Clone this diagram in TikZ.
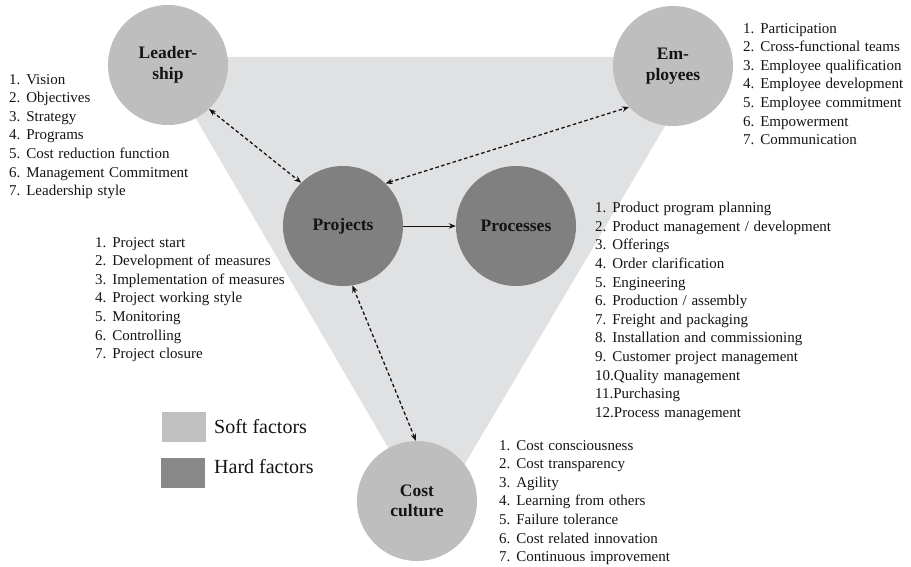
\documentclass[tikz,border=0pt]{standalone}
\usepackage{fontspec}
\setmainfont{Liberation Serif}
\usetikzlibrary{arrows.meta}
\definecolor{softc}{HTML}{BEBEBE}
\definecolor{hardc}{HTML}{808080}
\definecolor{legsoft}{HTML}{C0C0C0}
\definecolor{leghard}{HTML}{888888}
\definecolor{tri}{HTML}{E0E1E3}
\definecolor{txt}{HTML}{141414}
\newcommand\mylistfont{\fontsize{15}{18.6}\selectfont\spaceskip=4.6pt plus 1pt minus 1pt\relax}
\begin{document}
\begin{tikzpicture}[x=1pt,y=-1pt,
  factor/.style={circle, minimum size=120pt, inner sep=0pt, align=center, text=txt, font=\fontsize{17.5}{20.5}\selectfont\bfseries},
  soft/.style={factor, fill=softc},
  hard/.style={factor, fill=hardc},
  itemlist/.style={anchor=north west, inner sep=0pt, align=left, text=txt, font=\mylistfont},
  link/.style={dash pattern=on 3.5pt off 2.5pt, line width=1.3pt, draw=txt, {Stealth[length=7pt,width=5.5pt]}-{Stealth[length=7pt,width=5.5pt]}},
  flow/.style={line width=1pt, draw=txt, -{Stealth[length=7pt,width=5.5pt]}},
  legendbox/.style={minimum width=44pt, minimum height=30pt, inner sep=0pt, anchor=north west},
  legendtext/.style={anchor=base west, inner sep=0pt, text=txt, font=\fontsize{20}{24}\selectfont}]
\useasboundingbox (0,0) rectangle (911,567);
\fill[tri] (160,57) -- (706,57) -- (431,521) -- cycle;

\node[soft] (lead) at (168,65) {Leader-\\ship};
\node[soft] (emp) at (673,66) {Em-\\ployees};
\node[hard] (proj) at (343,226) {Projects};
\node[hard] (proc) at (516,226) {Processes};
\node[soft] (cost) at (417,501) {Cost\\culture};

\draw[link] (lead.313) -- (proj.134);
\draw[link] (proj.45) -- (emp.223);
\draw[link] (proj.279) -- (cost.91);
\draw[flow] (proj) -- (proc);

\node[itemlist] (leadlist) at (9,74) {1. Vision\\2. Objectives\\3. Strategy\\4. Programs\\5. Cost reduction function\\6. Management Commitment\\7. Leadership style};
\node[itemlist] (emplist) at (743,23) {1. Participation\\2. Cross-functional teams\\3. Employee qualification\\4. Employee development\\5. Employee commitment\\6. Empowerment\\7. Communication};
\node[itemlist] (projlist) at (95,237) {1. Project start\\2. Development of measures\\3. Implementation of measures\\4. Project working style\\5. Monitoring\\6. Controlling\\7. Project closure};
\node[itemlist] (proclist) at (595,202) {1. Product program planning\\2. Product management / development\\3. Offerings\\4. Order clarification\\5. Engineering\\6. Production / assembly\\7. Freight and packaging\\8. Installation and commissioning\\9. Customer project management\\10.Quality management\\11.Purchasing\\12.Process management};
\node[itemlist] (costlist) at (499,440) {1. Cost consciousness\\2. Cost transparency\\3. Agility\\4. Learning from others\\5. Failure tolerance\\6. Cost related innovation\\7. Continuous improvement};

\node[legendbox, fill=legsoft] (softbox) at (162,412) {};
\node[legendbox, fill=leghard] (hardbox) at (161,458) {};
\node[legendtext] (softlabel) at (214,433) {Soft factors};
\node[legendtext] (hardlabel) at (214,473) {Hard factors};
\end{tikzpicture}
\end{document}
